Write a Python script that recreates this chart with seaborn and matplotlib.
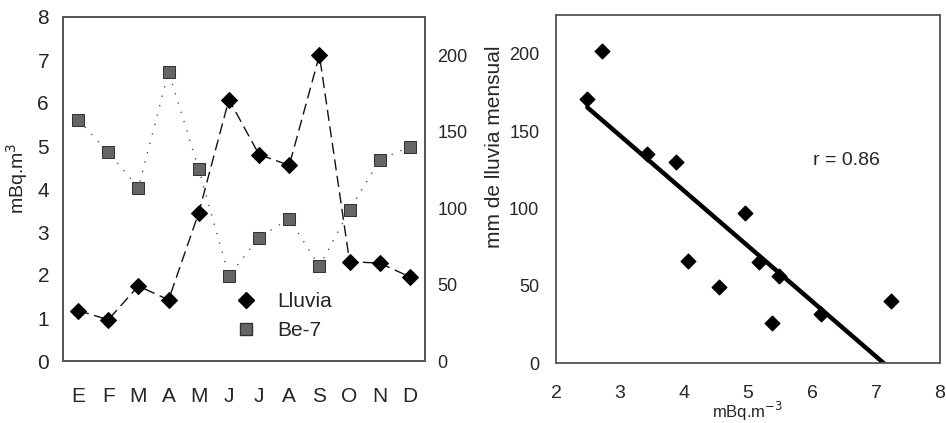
import numpy as np
import pandas as pd
import matplotlib
matplotlib.use("Agg")
import matplotlib.pyplot as plt
from matplotlib.lines import Line2D
import seaborn as sns

# ---- data ----
months = ["E", "F", "M", "A", "M", "J", "J", "A", "S", "O", "N", "D"]
be7_monthly = [5.61, 4.86, 4.03, 6.73, 4.46, 1.98, 2.87, 3.31, 2.20, 3.51, 4.68, 4.98]
lluvia_monthly = [33, 27, 49, 40, 97, 171, 135, 128, 200, 65, 64, 55]

be7_scatter = [2.49, 2.72, 3.42, 3.87, 4.07, 4.55, 4.95, 5.17, 5.38, 5.49, 6.14, 7.23]
lluvia_scatter = [171, 202, 135, 130, 66, 49, 97, 65, 26, 56, 32, 40]

left_yticks = [0, 1, 2, 3, 4, 5, 6, 7, 8]
right_yticks = [0, 50, 100, 150, 200]
scatter_xticks = [2, 3, 4, 5, 6, 7, 8]

sns.set_theme(style="white")
plt.rcParams['font.family'] = ['Liberation Sans', 'DejaVu Sans']

fig = plt.figure(figsize=(9.46, 4.23), dpi=100)
W, H = 946, 423

def add_ax(x0, y0, x1, y1):
    return fig.add_axes([x0 / W, (H - y1) / H, (x1 - x0) / W, (y1 - y0) / H])

spine_kw = dict(color="#555555", linewidth=1.3, linestyle=(0, (1, 1)))

# ---- left panel ----
ax1 = add_ax(63, 17, 425, 361)
ax2 = ax1.twinx()
df = pd.DataFrame({"pos": np.arange(len(months)), "be7": be7_monthly, "lluvia": lluvia_monthly})

sns.lineplot(data=df, x="pos", y="be7", ax=ax1, color="#555555", linewidth=1.0,
             linestyle=(0, (1, 6)), marker="s", markersize=8.5, markeredgecolor="#333333",
             markerfacecolor="#666666", legend=False)
sns.lineplot(data=df, x="pos", y="lluvia", ax=ax2, color="#111111", linewidth=1.0,
             linestyle=(0, (8, 4)), marker="D", markersize=8.5, markeredgecolor="black",
             markerfacecolor="black", legend=False)

ax1.set_xlim(-0.5, 11.5)
ax1.set_ylim(0, 8)
ax2.set_ylim(0, 225)
ax1.set_xticks(range(len(months)))
ax1.set_xticklabels(months)
ax1.set_yticks(left_yticks)
ax2.set_yticks(right_yticks)
ax1.set_xlabel("")
ax1.set_ylabel("mBq.m$^{3}$", fontsize=14)
ax1.yaxis.set_label_coords(-0.09, 0.53)
ax2.set_ylabel("")
ax1.tick_params(axis="x", length=0, pad=19, labelsize=15)
ax1.tick_params(axis="y", length=0, pad=10, labelsize=15)
ax2.tick_params(axis="y", length=0, pad=9, labelsize=13)
for ax in (ax1, ax2):
    for sp in ax.spines.values():
        sp.set(**spine_kw)
    ax.grid(False)

handles = [
    Line2D([], [], linestyle="none", marker="D", markersize=8.5, color="black"),
    Line2D([], [], linestyle="none", marker="s", markersize=8.5, markerfacecolor="#666666",
           markeredgecolor="#333333"),
]
ax2.legend(handles, ["Lluvia", "Be-7"], loc="center left", bbox_to_anchor=(0.425, 0.13),
           frameon=False, fontsize=15, handlelength=1.0, handletextpad=1.0, labelspacing=0.5)

# ---- right panel ----
ax3 = add_ax(556, 15, 940, 363)
sdf = pd.DataFrame({"be7": be7_scatter, "lluvia": lluvia_scatter})
sns.regplot(data=sdf, x="be7", y="lluvia", ax=ax3, ci=None, truncate=True, marker="D",
            scatter_kws=dict(s=55, color="black", edgecolor="black", alpha=1),
            line_kws=dict(color="black", linewidth=3.2))
ax3.set_xlim(2, 8)
ax3.set_ylim(0, 225)
ax3.set_xticks(scatter_xticks)
ax3.set_yticks(right_yticks)
ax3.set_xlabel("mBq.m$^{-3}$", fontsize=12, labelpad=-2)
ax3.set_ylabel("mm de lluvia mensual", fontsize=15)
ax3.yaxis.set_label_coords(-0.135, 0.62)
ax3.tick_params(axis="x", length=0, pad=16, labelsize=14)
ax3.tick_params(axis="y", length=0, pad=12, labelsize=13)
for sp in ax3.spines.values():
    sp.set(**spine_kw)
ax3.grid(False)
ax3.text(6.02, 131, "r = 0.86", fontsize=14, ha="left", va="center")

fig.savefig("out.png", dpi=100)
